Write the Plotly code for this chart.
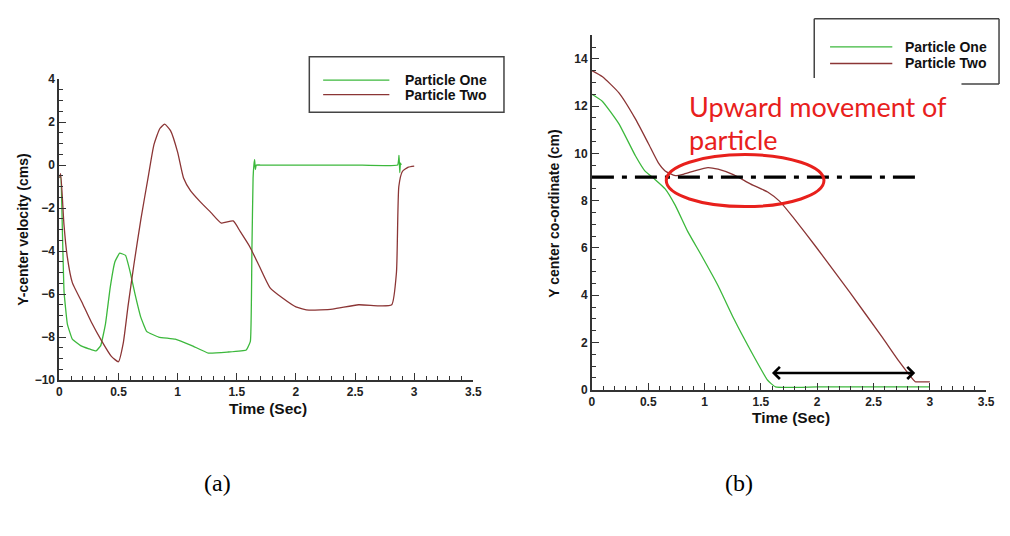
import plotly.graph_objects as go

W, H = 1010, 536

# ---------------- data: (a) velocity ----------------
t1_vel = [0.0, 0.011, 0.03, 0.04, 0.068, 0.11, 0.18, 0.25, 0.31, 0.35, 0.39, 0.43, 0.47, 0.51,
          0.56, 0.60, 0.64, 0.69, 0.74, 0.84, 0.98, 1.12, 1.26, 1.42, 1.58, 1.615, 1.628, 1.638,
          1.645, 1.651, 1.657, 1.665, 1.70, 2.0, 2.5, 2.86, 2.872, 2.878, 2.884, 2.89]
v1 = [-0.6, -0.5, -3.97, -5.9, -7.4, -8.1, -8.4, -8.55, -8.65, -8.4, -7.4, -5.7, -4.5, -4.1,
      -4.2, -5.0, -6.0, -7.1, -7.75, -8.0, -8.1, -8.4, -8.75, -8.7, -8.6, -8.2, -4.0, -0.6,
      0.0, 0.25, -0.2, 0.0, 0.0, 0.0, 0.0, 0.0, 0.45, -0.35, 0.1, 0.0]

t2_vel = [0.0, 0.011, 0.039, 0.067, 0.11, 0.19, 0.27, 0.36, 0.44, 0.50, 0.54, 0.58, 0.63, 0.69,
          0.75, 0.80, 0.85, 0.89, 0.94, 1.0, 1.05, 1.11, 1.19, 1.28, 1.37, 1.47, 1.53, 1.61,
          1.69, 1.78, 1.89, 2.0, 2.11, 2.31, 2.53, 2.70, 2.81, 2.85, 2.87, 2.90, 2.95, 3.0]
v2 = [-0.6, -0.4, -2.75, -4.26, -5.47, -6.37, -7.3, -8.2, -8.9, -9.15, -8.3, -6.6, -4.65, -2.5,
      -0.6, 0.95, 1.7, 1.9, 1.6, 0.6, -0.6, -1.2, -1.7, -2.2, -2.7, -2.6, -3.1, -3.8,
      -4.7, -5.7, -6.2, -6.6, -6.75, -6.7, -6.5, -6.55, -6.5, -5.0, -1.0, -0.3, -0.1, -0.05]

# ---------------- data: (b) position ----------------
t1_pos = [0.0, 0.094, 0.24, 0.386, 0.47, 0.56, 0.65, 0.74, 0.85, 0.97, 1.12, 1.26, 1.41, 1.56,
          1.63, 2.0, 2.5, 3.0]
y1 = [12.5, 12.2, 11.25, 9.9, 9.26, 8.9, 8.5, 7.8, 6.7, 5.7, 4.4, 3.0, 1.65, 0.4,
      0.12, 0.12, 0.12, 0.12]

t2_pos = [0.0, 0.094, 0.24, 0.386, 0.5, 0.59, 0.65, 0.74, 0.82, 0.91, 1.03, 1.12, 1.26, 1.41,
          1.56, 1.67, 1.79, 1.99, 2.29, 2.58, 2.72, 2.87, 2.9, 3.0]
y2 = [13.5, 13.24, 12.56, 11.46, 10.43, 9.6, 9.26, 9.06, 9.13, 9.26, 9.4, 9.33, 9.09, 8.7,
      8.37, 7.96, 7.27, 6.04, 4.12, 2.2, 1.24, 0.34, 0.33, 0.33]

series_names = ["Particle One", "Particle Two"]
series_colors = ["#3cb83c", "#8b3535"]

x_ticks = [0, 0.5, 1, 1.5, 2, 2.5, 3, 3.5]
x_ticklabels = ["0", "0.5", "1", "1.5", "2", "2.5", "3", "3.5"]
vel_ticks = [4, 2, 0, -2, -4, -6, -8, -10]
pos_ticks = [0, 2, 4, 6, 8, 10, 12, 14]

caption_labels = ["(a)", "(b)"]
annot_lines = ["Upward movement of", "particle"]
ref_level = 9.0
gap_start, gap_end, gap_y = 1.585, 2.87, 0.71


def px(x):
    return x / W


def py(y):
    return 1 - y / H


fig = go.Figure()

fig.add_trace(go.Scatter(x=t1_vel, y=v1, mode="lines", name=series_names[0],
                         line=dict(color=series_colors[0], width=1.3, shape="spline", smoothing=0.3),
                         xaxis="x", yaxis="y", showlegend=False))
fig.add_trace(go.Scatter(x=t2_vel, y=v2, mode="lines", name=series_names[1],
                         line=dict(color=series_colors[1], width=1.3, shape="spline", smoothing=0.5),
                         xaxis="x", yaxis="y", showlegend=False))
fig.add_trace(go.Scatter(x=t1_pos, y=y1, mode="lines", name=series_names[0],
                         line=dict(color=series_colors[0], width=1.3, shape="spline", smoothing=0.4),
                         xaxis="x2", yaxis="y2", showlegend=False))
fig.add_trace(go.Scatter(x=t2_pos, y=y2, mode="lines", name=series_names[1],
                         line=dict(color=series_colors[1], width=1.3, shape="spline", smoothing=0.5),
                         xaxis="x2", yaxis="y2", showlegend=False))

tickfont = dict(family="Liberation Sans", size=12, color="#222222", weight="bold")
axcommon = dict(showgrid=False, zeroline=False, showline=True, linecolor="#333333",
                linewidth=1.8, ticks="inside", ticklen=7, tickwidth=1.3, tickcolor="#333333",
                tickfont=tickfont, mirror=False)
minor_x = dict(dtick=0.1, ticks="inside", ticklen=4, tickcolor="#333333")
minor_y = dict(dtick=0.5, ticks="inside", ticklen=4, tickcolor="#333333")

fig.update_layout(
    width=W, height=H, margin=dict(l=0, r=0, t=0, b=0),
    paper_bgcolor="white", plot_bgcolor="white",
    xaxis=dict(domain=[px(57), px(476)], range=[0, 3.5], anchor="y",
               tickvals=x_ticks, ticktext=x_ticklabels, minor=minor_x, **axcommon),
    yaxis=dict(domain=[py(383), py(74)], range=[-10, 4], anchor="x",
               tickvals=vel_ticks, minor=minor_y, **axcommon),
    xaxis2=dict(domain=[px(596), px(995)], range=[0, 3.5], anchor="y2",
                tickvals=x_ticks, ticktext=x_ticklabels, minor=minor_x, **axcommon),
    yaxis2=dict(domain=[py(393), py(29)], range=[0, 15], anchor="x2",
                tickvals=pos_ticks, minor=minor_y, **axcommon),
)

shapes = []
annotations = []


def note(text, x, y, font, **kw):
    d = dict(text=text, x=px(x), y=py(y), xref="paper", yref="paper", showarrow=False,
             xanchor="center", yanchor="middle", font=font)
    d.update(kw)
    annotations.append(d)


bold = dict(family="Liberation Sans", size=14, color="#111111", weight="bold")
title_font = dict(family="Liberation Sans", size=15.5, color="#111111", weight="bold")
ytitle_font = dict(family="Liberation Sans", size=14, color="#111111", weight="bold")

# axis titles
note("Time (Sec)", 268, 412, title_font)
note("Time (Sec)", 797, 421, title_font)
note("Y-center velocity (cms)", 20, 228, ytitle_font, textangle=-90)
note("Y center co-ordinate (cm)", 558, 212, ytitle_font, textangle=-90)

# legend (a)
shapes.append(dict(type="rect", xref="paper", yref="paper", x0=px(310), x1=px(507), y0=py(108), y1=py(51),
                   line=dict(color="#444444", width=1.5)))
for i, yy in enumerate([75, 90]):
    shapes.append(dict(type="line", xref="paper", yref="paper", x0=px(324), x1=px(391), y0=py(yy), y1=py(yy),
                       line=dict(color=series_colors[i], width=1.3)))
    note(series_names[i], 405, yy, bold, xanchor="left")

# legend (b)
for (x0, y0, x1, y1) in [(821, 12, 1008, 12), (821, 12, 821, 73), (1008, 12, 1008, 79), (970, 79, 1008, 79)]:
    shapes.append(dict(type="line", xref="paper", yref="paper", x0=px(x0), x1=px(x1), y0=py(y0), y1=py(y1),
                       line=dict(color="#444444", width=1.5)))
for i, yy in enumerate([41, 58]):
    shapes.append(dict(type="line", xref="paper", yref="paper", x0=px(837), x1=px(900), y0=py(yy), y1=py(yy),
                       line=dict(color=series_colors[i], width=1.3)))
    note(series_names[i], 911, yy, bold, xanchor="left")

# dash-dot reference line
shapes.append(dict(type="line", xref="x2", yref="y2", x0=0, x1=2.886, y0=ref_level, y1=ref_level,
                   line=dict(color="black", width=3.2, dash="22px,8px,5px,8px")))
# ellipse
shapes.append(dict(type="circle", xref="x2", yref="y2", x0=0.66, x1=2.06, y0=7.75, y1=9.95,
                   line=dict(color="#e8201c", width=3)))
# red text
red_font = dict(family="Lato", size=27, color="#e8201c")
note(annot_lines[0], 692, 102, red_font, xanchor="left")
note(annot_lines[1], 692, 136, red_font, xanchor="left")

# double arrow
annotations.append(dict(x=gap_end, y=gap_y, ax=gap_start, ay=gap_y, xref="x2", yref="y2",
                        axref="x2", ayref="y2", showarrow=True, arrowhead=4, arrowsize=0.9,
                        arrowwidth=2.6, arrowcolor="black", arrowside="end+start", text=""))

# captions
for lab, xx in zip(caption_labels, [217, 745]):
    note(lab, xx, 489, dict(family="Liberation Serif", size=24, color="black"))

fig.update_layout(shapes=shapes, annotations=annotations)
fig.write_html("out.html")
